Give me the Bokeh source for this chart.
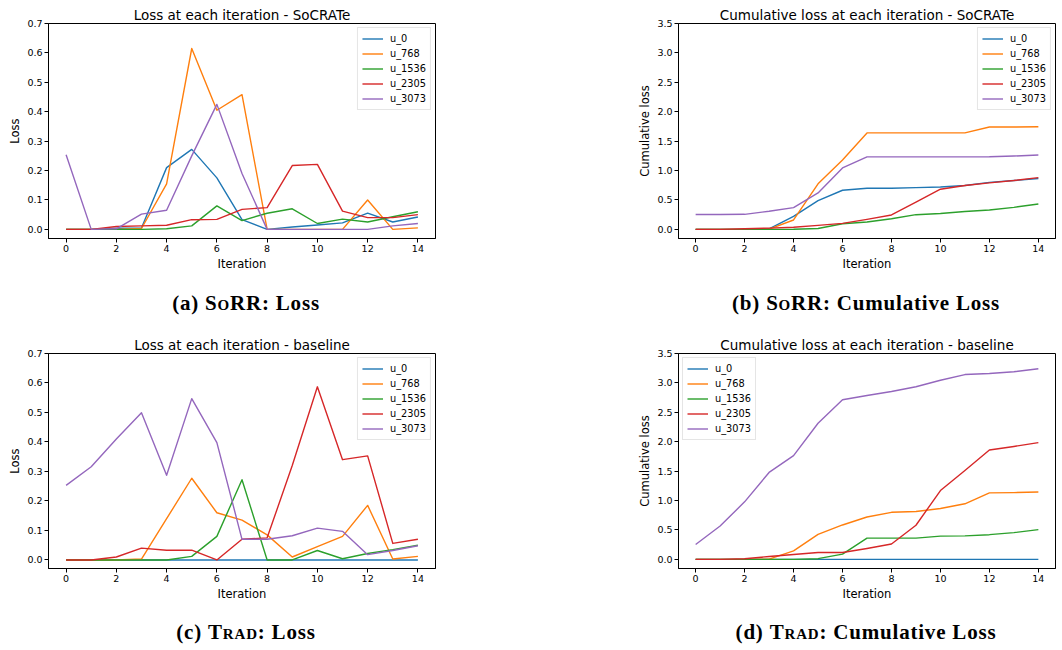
from bokeh.plotting import figure
from bokeh.models import Legend, LegendItem, FixedTicker, PrintfTickFormatter, Range1d, Div
from bokeh.layouts import column, row
from bokeh.embed import file_html
from bokeh.resources import INLINE

iterations = list(range(15))
users = ["u_0", "u_768", "u_1536", "u_2305", "u_3073"]
colors = ["#1f77b4", "#ff7f0e", "#2ca02c", "#d62728", "#9467bd"]
x_ticks = [0, 2, 4, 6, 8, 10, 12, 14]
loss_ticks = [0.0, 0.1, 0.2, 0.3, 0.4, 0.5, 0.6, 0.7]
cum_ticks = [0.0, 0.5, 1.0, 1.5, 2.0, 2.5, 3.0, 3.5]

# (a) SoRR / SoCRATe: loss per iteration
sorr_loss_u0 = [0.0, 0.0, 0.004, 0.005, 0.21, 0.272, 0.175, 0.033, 0.0, 0.008, 0.015, 0.022, 0.055, 0.025, 0.042]
sorr_loss_u768 = [0.0, 0.0, 0.0, 0.003, 0.155, 0.615, 0.405, 0.458, 0.0, 0.0, 0.0, 0.0, 0.10, 0.0, 0.005]
sorr_loss_u1536 = [0.0, 0.0, 0.0, 0.0, 0.002, 0.012, 0.08, 0.03, 0.055, 0.07, 0.02, 0.035, 0.025, 0.043, 0.06]
sorr_loss_u2305 = [0.0, 0.0, 0.01, 0.012, 0.014, 0.033, 0.034, 0.068, 0.074, 0.217, 0.221, 0.062, 0.04, 0.04, 0.05]
sorr_loss_u3073 = [0.254, 0.0, 0.002, 0.052, 0.065, 0.25, 0.425, 0.19, 0.0, 0.0, 0.0, 0.0, 0.0, 0.012, 0.02]

# (b) SoRR / SoCRATe: cumulative loss
sorr_cum_u0 = [0.0, 0.0, 0.0, 0.01, 0.22, 0.49, 0.665, 0.70, 0.70, 0.71, 0.72, 0.745, 0.80, 0.83, 0.865]
sorr_cum_u768 = [0.0, 0.0, 0.0, 0.003, 0.16, 0.775, 1.18, 1.64, 1.64, 1.64, 1.64, 1.64, 1.74, 1.74, 1.745]
sorr_cum_u1536 = [0.0, 0.0, 0.0, 0.0, 0.002, 0.014, 0.095, 0.125, 0.18, 0.25, 0.27, 0.305, 0.33, 0.375, 0.432]
sorr_cum_u2305 = [0.0, 0.0, 0.01, 0.022, 0.036, 0.069, 0.103, 0.171, 0.245, 0.462, 0.683, 0.745, 0.79, 0.83, 0.88]
sorr_cum_u3073 = [0.254, 0.254, 0.256, 0.308, 0.37, 0.62, 1.045, 1.233, 1.233, 1.233, 1.233, 1.233, 1.235, 1.247, 1.265]

# (c) Trad / baseline: loss per iteration
trad_loss_u0 = [0.0, 0.0, 0.0, 0.0, 0.0, 0.0, 0.0, 0.0, 0.0, 0.0, 0.0, 0.0, 0.0, 0.0, 0.0]
trad_loss_u768 = [0.0, 0.0, 0.0, 0.003, 0.14, 0.277, 0.16, 0.135, 0.085, 0.01, 0.045, 0.08, 0.185, 0.003, 0.012]
trad_loss_u1536 = [0.0, 0.0, 0.0, 0.0, 0.0, 0.012, 0.08, 0.272, 0.0, 0.0, 0.032, 0.004, 0.022, 0.035, 0.05]
trad_loss_u2305 = [0.0, 0.0, 0.01, 0.04, 0.033, 0.033, 0.0, 0.07, 0.075, 0.32, 0.587, 0.34, 0.353, 0.056, 0.07]
trad_loss_u3073 = [0.253, 0.316, 0.41, 0.499, 0.287, 0.547, 0.398, 0.07, 0.07, 0.082, 0.108, 0.097, 0.018, 0.032, 0.048]

# (d) Trad / baseline: cumulative loss
trad_cum_u0 = [0.0, 0.0, 0.0, 0.0, 0.0, 0.0, 0.0, 0.0, 0.0, 0.0, 0.0, 0.0, 0.0, 0.0, 0.0]
trad_cum_u768 = [0.0, 0.0, 0.0, 0.003, 0.145, 0.425, 0.585, 0.72, 0.80, 0.815, 0.865, 0.945, 1.13, 1.135, 1.145]
trad_cum_u1536 = [0.0, 0.0, 0.0, 0.0, 0.0, 0.012, 0.09, 0.362, 0.362, 0.362, 0.395, 0.40, 0.42, 0.455, 0.505]
trad_cum_u2305 = [0.0, 0.0, 0.01, 0.05, 0.083, 0.116, 0.116, 0.186, 0.261, 0.58, 1.17, 1.51, 1.86, 1.92, 1.985]
trad_cum_u3073 = [0.253, 0.567, 0.978, 1.478, 1.765, 2.315, 2.713, 2.785, 2.853, 2.935, 3.045, 3.142, 3.16, 3.19, 3.24]

FONT = "DejaVu Sans"


def make_fig(title, ylabel, yticks, yrange, series, legend_loc, width, mb_right):
    p = figure(width=width, height=288, output_backend="svg", toolbar_location=None,
               x_range=Range1d(-0.7, 14.7), y_range=Range1d(*yrange),
               min_border_left=48, min_border_right=mb_right, min_border_top=23, min_border_bottom=50)
    p.title.text = title
    p.title.text_font = FONT
    p.title.text_font_size = "13.5px"
    p.title.text_font_style = "normal"
    p.title.text_color = "#000000"
    p.title.align = "center"
    p.title.standoff = 2
    p.grid.visible = False
    p.outline_line_color = "#000000"
    p.outline_line_width = 1
    p.background_fill_color = "white"
    p.border_fill_color = "white"

    p.xaxis.ticker = FixedTicker(ticks=x_ticks)
    p.yaxis.ticker = FixedTicker(ticks=yticks)
    p.yaxis.formatter = PrintfTickFormatter(format="%.1f")
    p.xaxis.axis_label = "Iteration"
    p.yaxis.axis_label = ylabel
    for ax in (p.xaxis, p.yaxis):
        ax.axis_label_text_font = FONT
        ax.axis_label_text_font_size = "11.5px"
        ax.axis_label_text_font_style = "normal"
        ax.axis_label_text_color = "#000000"
        ax.major_label_text_font = FONT
        ax.major_label_text_font_size = "9.5px"
        ax.major_label_text_color = "#000000"
        ax.major_tick_out = 4
        ax.major_tick_in = 0
        ax.minor_tick_out = 0
        ax.minor_tick_in = 0
        ax.major_label_standoff = 2
        ax.axis_label_standoff = 2
        ax.axis_line_color = "#000000"
        ax.major_tick_line_color = "#000000"

    items = []
    for name, col, ys in zip(users, colors, series):
        r = p.line(iterations, ys, line_color=col, line_width=1.4, line_join="round")
        items.append(LegendItem(label=name, renderers=[r]))
    leg = Legend(items=items, location=legend_loc)
    leg.label_text_font = FONT
    leg.label_text_font_size = "9.8px"
    leg.label_text_color = "#000000"
    leg.glyph_width = 21
    leg.glyph_height = 13
    leg.label_height = 13
    leg.label_standoff = 7
    leg.spacing = 2
    leg.padding = 4
    leg.margin = 4
    leg.border_line_color = "#cccccc"
    leg.border_line_width = 1
    leg.background_fill_alpha = 0.8
    p.add_layout(leg)
    return p


def caption(label, sc_word, rest, width, height, inner_w, shift, pad_top):
    html = (
        f'<div style="position:relative;left:{shift}px;width:{inner_w}px;text-align:center;'
        f'padding-top:{pad_top}px;font-family:\'Liberation Serif\';font-weight:bold;font-size:21px;'
        f'line-height:22px;color:#000;white-space:nowrap;letter-spacing:0.8px">'
        f'{label} <span style="font-variant:small-caps">{sc_word}</span>{rest}</div>'
    )
    return Div(text=html, width=width, height=height, margin=0)


fig_a = make_fig("Loss at each iteration - SoCRATe", "Loss", loss_ticks, (-0.031, 0.7),
                 [sorr_loss_u0, sorr_loss_u768, sorr_loss_u1536, sorr_loss_u2305, sorr_loss_u3073],
                 "top_right", 630, 195)
fig_b = make_fig("Cumulative loss at each iteration - SoCRATe", "Cumulative loss", cum_ticks, (-0.155, 3.5),
                 [sorr_cum_u0, sorr_cum_u768, sorr_cum_u1536, sorr_cum_u2305, sorr_cum_u3073],
                 "top_right", 430, 5)
fig_c = make_fig("Loss at each iteration - baseline", "Loss", loss_ticks, (-0.029, 0.7),
                 [trad_loss_u0, trad_loss_u768, trad_loss_u1536, trad_loss_u2305, trad_loss_u3073],
                 "top_right", 630, 195)
fig_d = make_fig("Cumulative loss at each iteration - baseline", "Cumulative loss", cum_ticks, (-0.155, 3.5),
                 [trad_cum_u0, trad_cum_u768, trad_cum_u1536, trad_cum_u2305, trad_cum_u3073],
                 "top_left", 430, 5)

cap_a = caption("(a)", "SoRR", ": Loss", 630, 42, 492, 0, 4)
cap_b = caption("(b)", "SoRR", ": Cumulative Loss", 430, 42, 380, 46, 4)
cap_c = caption("(c)", "Trad", ": Loss", 630, 30, 492, 0, 3)
cap_d = caption("(d)", "Trad", ": Cumulative Loss", 430, 30, 380, 46, 3)

layout = column(row(fig_a, fig_b), row(cap_a, cap_b), row(fig_c, fig_d), row(cap_c, cap_d))

open("out.html", "w").write(file_html(layout, INLINE))
